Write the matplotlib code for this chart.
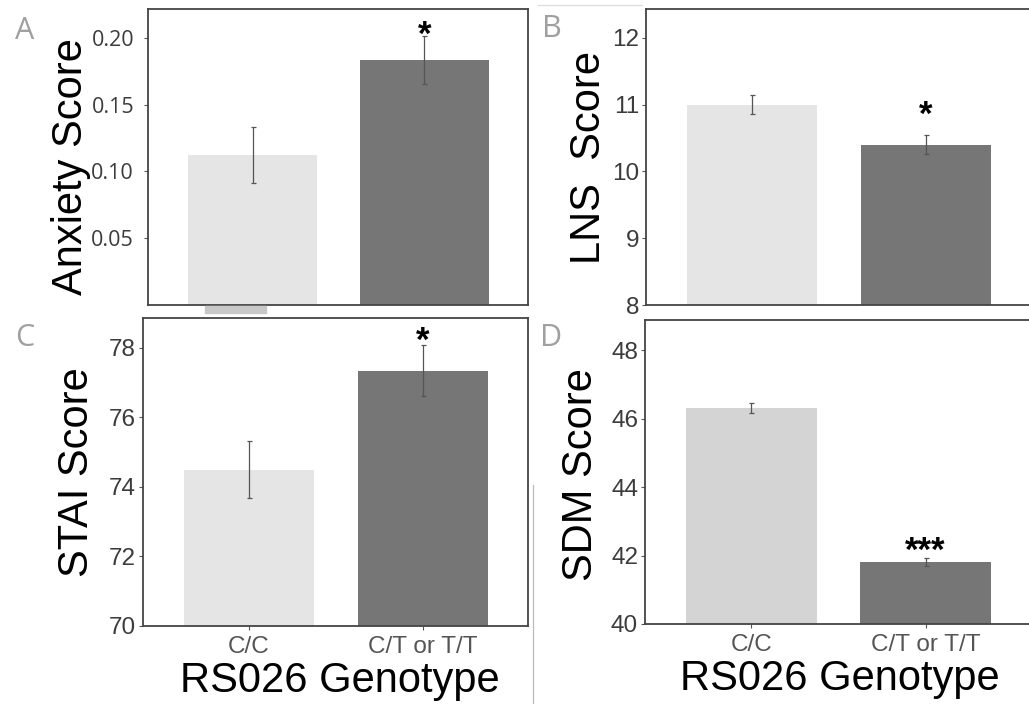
import matplotlib
matplotlib.use("Agg")
import matplotlib.pyplot as plt
from matplotlib.patches import Rectangle
from matplotlib.lines import Line2D

# ---- data ----
genotypes = ["C/C", "C/T or T/T"]

anxiety_means = [0.112, 0.1836]
anxiety_err = [0.021, 0.018]
lns_means = [11.0, 10.40]
lns_err = [0.145, 0.14]
stai_means = [74.49, 77.34]
stai_err = [0.82, 0.73]
sdm_means = [46.31, 41.81]
sdm_err = [0.16, 0.13]

ylabels = ["Anxiety Score", "LNS  Score", "STAI Score", "SDM Score"]
panel_letters = ["A", "B", "C", "D"]
stars = ["*", "*", "*", "***"]
star_values = [0.2082, 10.96, 78.43, 42.37]
anxiety_ticks = [0.05, 0.10, 0.15, 0.20]
anxiety_ticklabels = ["0.05", "0.10", "0.15", "0.20"]
lns_ticks = [8, 9, 10, 11, 12]
stai_ticks = [70, 72, 74, 76, 78]
sdm_ticks = [40, 42, 44, 46, 48]
xlabel = "RS026 Genotype"

W, H = 1029, 704
fig = plt.figure(figsize=(W / 100, H / 100), dpi=100)
fig.patch.set_facecolor("white")

def box(l, r, t, b):
    return [l / W, 1 - b / H, (r - l) / W, (b - t) / H]

SANS = ["Liberation Sans", "DejaVu Sans"]
LIGHT = "#e5e5e5"
DARK = "#767676"

panels = [
    dict(rect=box(148, 528, 9, 305), means=anxiety_means, err=anxiety_err,
         ylim=(0, 0.2216), ticks=anxiety_ticks, tlabels=anxiety_ticklabels,
         colors=[LIGHT, DARK], tickfont=["Open Sans", "DejaVu Sans"], tfs=15.5,
         tpad=7, xt=False, ylab_x=82, ylab_y=167, letter=(25, 31)),
    dict(rect=box(646, 1031, 9, 305), means=lns_means, err=lns_err,
         ylim=(8, 12.43), ticks=lns_ticks, tlabels=[str(t) for t in lns_ticks],
         colors=[LIGHT, DARK], tickfont=SANS, tfs=17.5, tpad=2, xt=False,
         ylab_x=600, ylab_y=157, letter=(552, 29)),
    dict(rect=box(143, 528, 318, 626), means=stai_means, err=stai_err,
         ylim=(70, 78.86), ticks=stai_ticks, tlabels=[str(t) for t in stai_ticks],
         colors=[LIGHT, DARK], tickfont=SANS, tfs=17.5, tpad=2, xt=True,
         ylab_x=88, ylab_y=472, letter=(25, 338)),
    dict(rect=box(645, 1031, 320, 624), means=sdm_means, err=sdm_err,
         ylim=(40, 48.88), ticks=sdm_ticks, tlabels=[str(t) for t in sdm_ticks],
         colors=["#d4d4d4", DARK], tickfont=SANS, tfs=17.5, tpad=2, xt=True,
         ylab_x=592, ylab_y=475, letter=(551, 338)),
]

x = [1, 2]
for i, p in enumerate(panels):
    ax = fig.add_axes(p["rect"])
    ax.bar(x, p["means"], width=0.75, color=p["colors"], zorder=1)
    ax.errorbar(x, p["means"], yerr=p["err"], fmt="none", ecolor="#555555",
                elinewidth=0.9, capsize=1.8, capthick=0.9, zorder=2)
    ax.set_xlim(0.39, 2.605)
    ax.set_ylim(*p["ylim"])
    ax.set_yticks(p["ticks"])
    ax.set_yticklabels(p["tlabels"], fontfamily=p["tickfont"],
                       fontsize=p["tfs"], color="#3c3c3c")
    ax.tick_params(axis="y", length=3, width=0.8, color="#555555", pad=p["tpad"])
    if p["xt"]:
        ax.set_xticks(x)
        ax.set_xticklabels(genotypes, fontfamily=SANS, fontsize=17.5, color="#555555")
        ax.tick_params(axis="x", length=3, width=0.8, color="#555555", pad=4)
    else:
        ax.set_xticks([])
    for s in ax.spines.values():
        s.set_color("#444444")
        s.set_linewidth(1.3)
    fs = 25
    ax.annotate(stars[i], xy=(2, star_values[i]), xytext=(0, -0.52 * fs),
                textcoords="offset points", ha="center", va="baseline",
                fontsize=fs, fontweight="bold", fontfamily=SANS, color="black")
    # y label
    fig.text(p["ylab_x"] / W, 1 - p["ylab_y"] / H, ylabels[i], rotation=90,
             rotation_mode="anchor", ha="center", va="baseline",
             fontsize=30, fontfamily=SANS, color="black")
    # panel letter
    lx, ly = p["letter"]
    fig.text(lx / W, 1 - ly / H, panel_letters[i], ha="center", va="center",
             fontsize=22, fontfamily=["Open Sans", "DejaVu Sans"], color="#a0a0a0")

# x axis titles
fig.text(340 / W, 1 - 692 / H, xlabel, ha="center", va="baseline",
         fontsize=30, fontfamily=SANS, color="black")
fig.text(840 / W, 1 - 690 / H, xlabel, ha="center", va="baseline",
         fontsize=30, fontfamily=SANS, color="black")

# small scan artifacts of the original figure
fig.patches.append(Rectangle((205 / W, 1 - 313 / H), 61 / W, 7 / H,
                             transform=fig.transFigure, color="#c8c8c8", zorder=0))
fig.lines.append(Line2D([533 / W, 533 / W], [1 - 485 / H, 0], transform=fig.transFigure,
                        color="#bbbbbb", linewidth=0.9))
fig.lines.append(Line2D([538 / W, 642 / W], [1 - 5 / H, 1 - 5 / H], transform=fig.transFigure,
                        color="#dddddd", linewidth=0.9))

fig.savefig("out.png", dpi=100, facecolor="white")
